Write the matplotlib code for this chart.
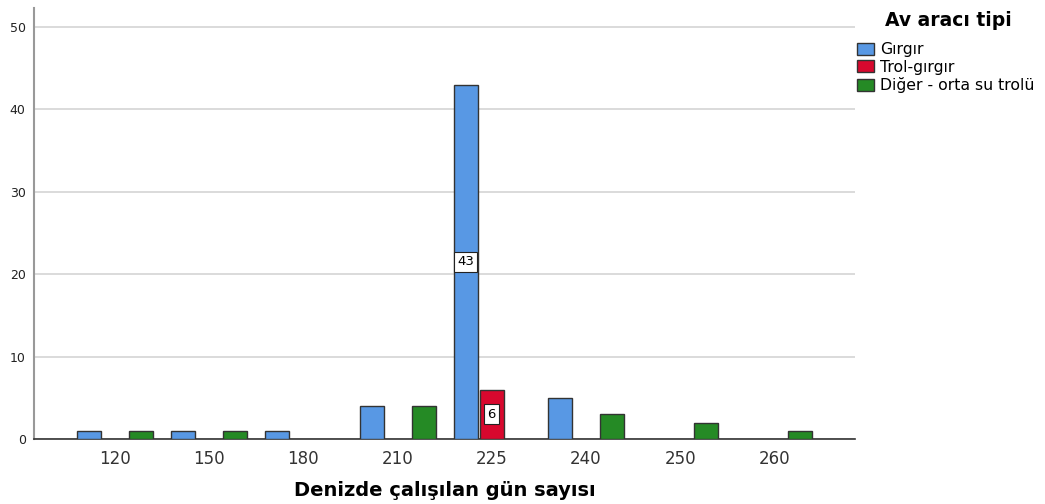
import matplotlib
matplotlib.use("Agg")
from matplotlib import pyplot as plt
from matplotlib.patches import Patch
import numpy as np

plt.rcParams['font.family'] = ['DejaVu Sans']

days = ["120", "150", "180", "210", "225", "240", "250", "260"]
girgir = [1, 1, 1, 4, 43, 5, 0, 0]
trol_girgir = [0, 0, 0, 0, 6, 0, 0, 0]
diger = [1, 1, 0, 4, 0, 3, 2, 1]

series_names = ["Gırgır", "Trol-gırgır", "Diğer - orta su trolü"]
colors = ["#5898e4", "#d8082e", "#258a25"]
labelled = {(0, 4), (1, 4)}  # bars that carry a count label in the original

fig = plt.figure(figsize=(10.45, 5.04), dpi=100)
ax = fig.add_axes([0.0325, 0.129, 0.786, 0.855])

x = np.arange(len(days))
slot = 0.276
width = 0.255
for j, (vals, col) in enumerate(zip([girgir, trol_girgir, diger], colors)):
    for i, v in enumerate(vals):
        if v == 0:
            continue
        xpos = x[i] + (j - 1) * slot
        ax.bar(xpos, v, width=width, color=col, edgecolor="#333333", linewidth=1, zorder=3)
        if (j, i) in labelled:
            ax.text(xpos, v / 2, str(v), ha="center", va="center", fontsize=9.5, zorder=4,
                    bbox=dict(boxstyle="square,pad=0.25", facecolor="white", edgecolor="#222222", linewidth=0.8))

ax.set_xlim(-0.86, 7.86)
ax.set_ylim(0, 52.3)
ax.set_xticks(x)
ax.set_xticklabels(days, fontsize=12, color="#333333")
ax.set_yticks(np.arange(0, 51, 10))
ax.set_yticklabels([str(v) for v in range(0, 51, 10)], fontsize=9, color="#222222")
ax.tick_params(axis="both", length=0)
ax.tick_params(axis="x", pad=8)
ax.tick_params(axis="y", pad=6)
ax.grid(axis="y", color="#d4d4d4", linewidth=1.2, zorder=0)
ax.set_axisbelow(True)
for s in ["top", "right"]:
    ax.spines[s].set_visible(False)
ax.spines["left"].set_color("#999999")
ax.spines["left"].set_linewidth(1.5)
ax.spines["bottom"].set_color("#333333")
ax.spines["bottom"].set_linewidth(1.2)

ax.set_xlabel("Denizde çalışılan gün sayısı", fontsize=14, fontweight="bold", labelpad=9)

# legend title drawn separately so the gap under it matches the original
fig.text(0.908, 0.96, "Av aracı tipi", ha="center", va="center", fontsize=13.5, fontweight="bold")
handles = [Patch(facecolor=c, edgecolor="#333333", linewidth=1) for c in colors]
leg = fig.legend(handles, series_names, loc="upper left", bbox_to_anchor=(0.82, 0.916),
                 frameon=False, fontsize=11.3,
                 handlelength=1.1, handleheight=0.8, handletextpad=0.4, labelspacing=0.15,
                 borderaxespad=0, borderpad=0.0)

fig.savefig("out.png", dpi=100)
